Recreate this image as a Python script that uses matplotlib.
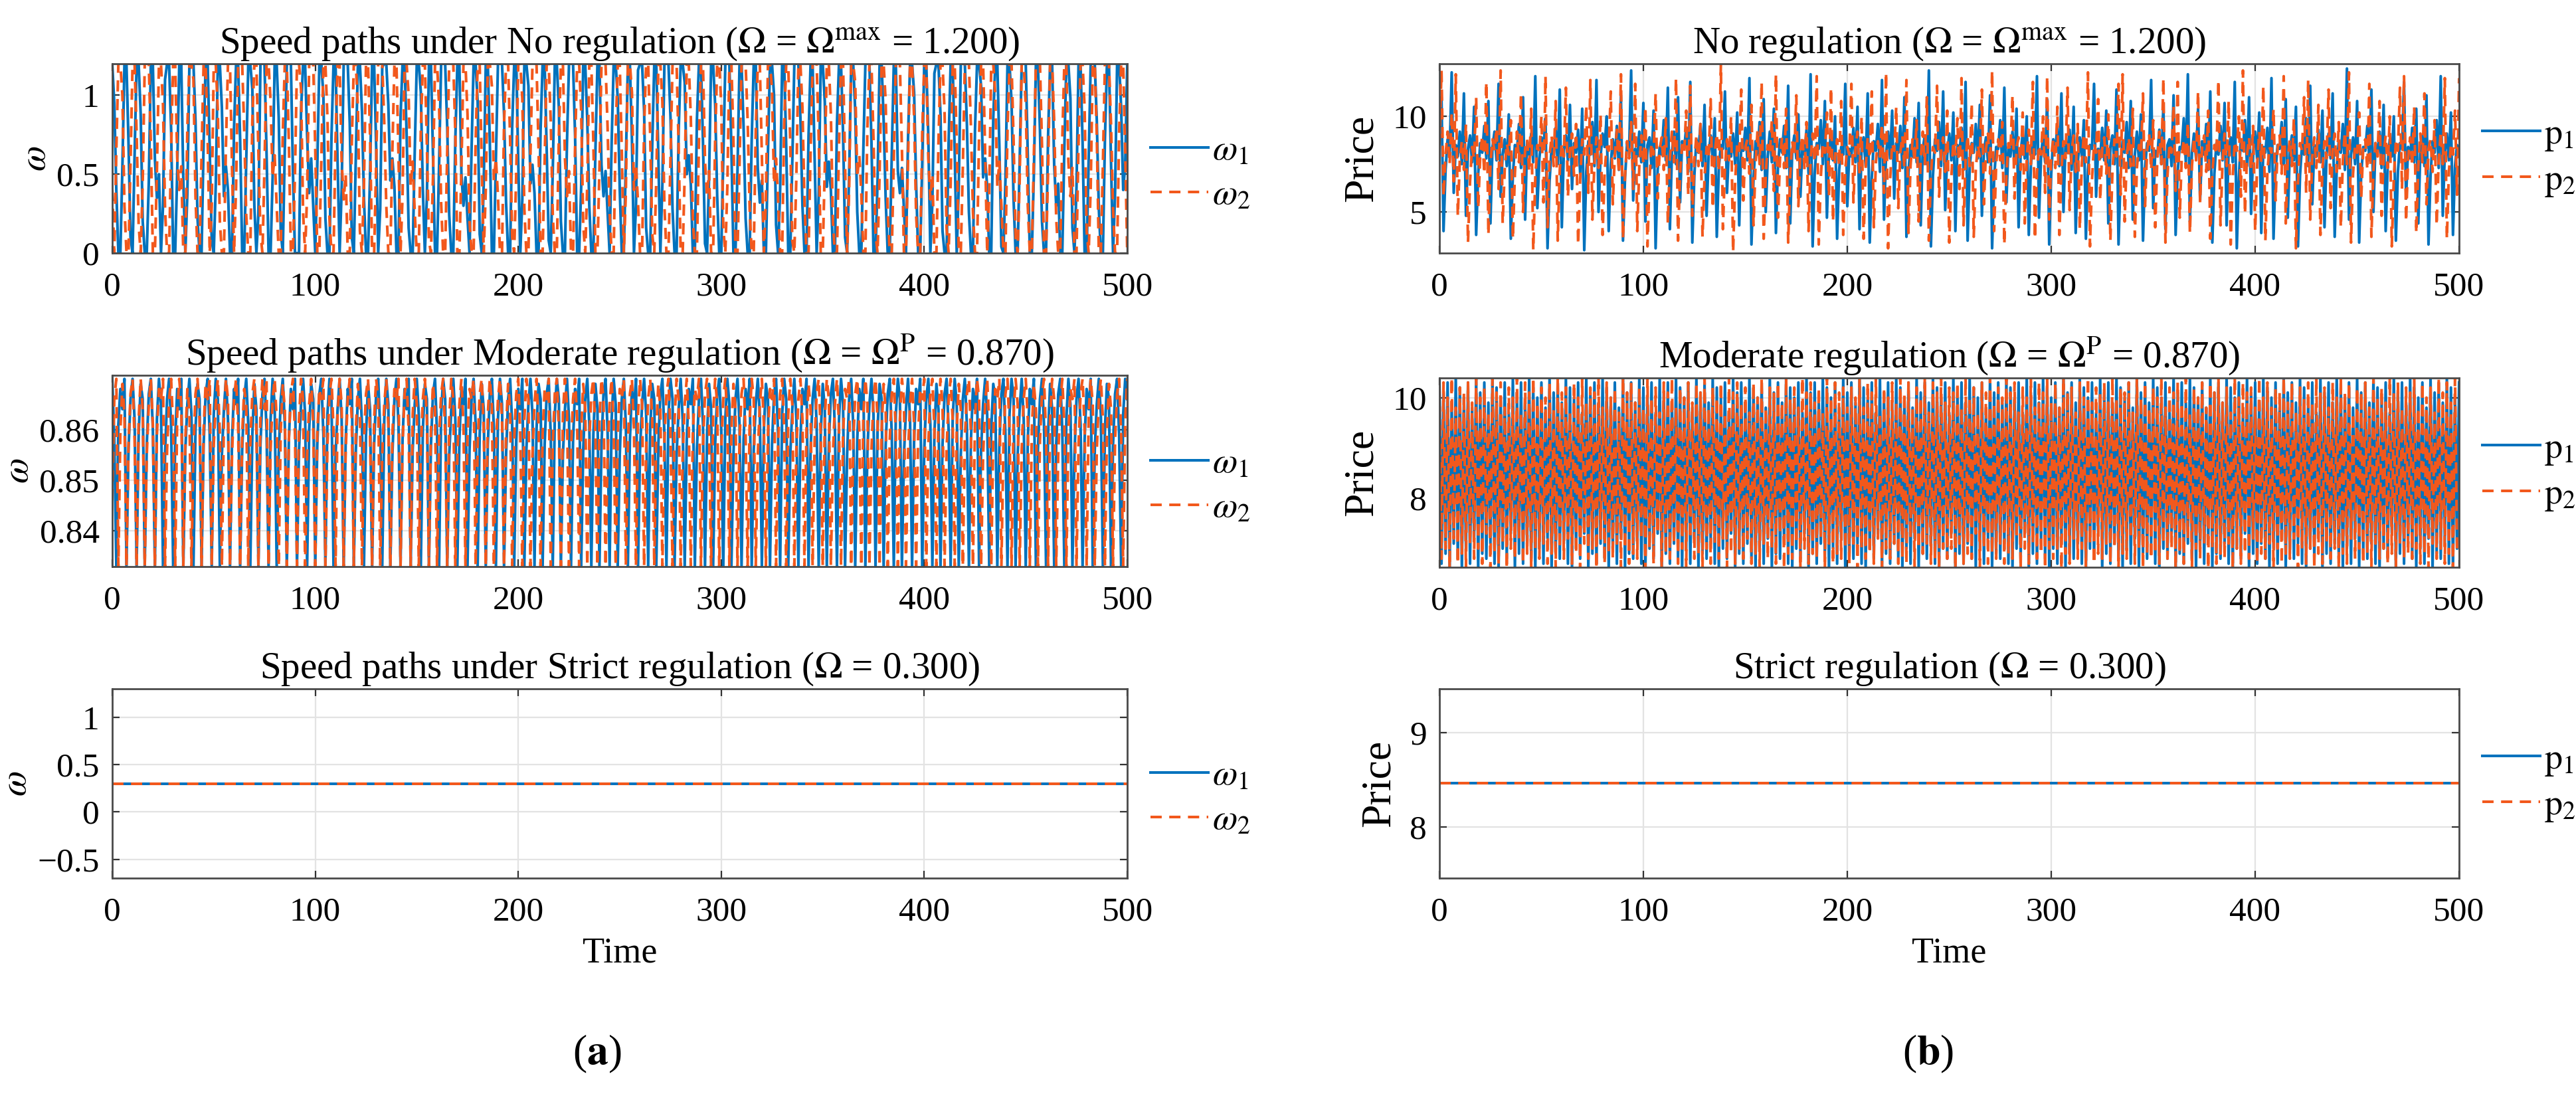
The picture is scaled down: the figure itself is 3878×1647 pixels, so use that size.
import numpy as np
import matplotlib
matplotlib.use("Agg")
import matplotlib.pyplot as plt
from matplotlib.ticker import FuncFormatter

# ---------------- data ----------------
# Speed, no regulation (hundredths)
w1_no_pct = [
120,95,40,0,0,55,120,120,70,10,0,62,120,120,88,20,0,0,45,120,120,60,35,50,0,
30,110,120,120,78,0,0,52,120,120,46,0,38,120,120,120,84,22,0,0,70,120,120,66,8,
0,44,120,120,92,36,55,40,0,0,80,120,120,72,0,0,58,120,120,104,30,0,25,120,120,
120,64,0,0,48,120,120,86,14,0,66,120,120,120,52,0,0,0,90,120,120,74,38,60,30,
0,54,120,120,100,22,0,0,74,120,120,58,0,40,120,120,120,82,10,0,62,120,120,90,34,
0,0,50,120,120,68,0,28,118,120,120,94,46,60,42,0,0,86,120,120,76,16,0,0,64,
120,120,102,40,0,36,120,120,62,0,0,56,120,120,120,80,24,0,0,72,120,120,50,30,48,
22,0,66,120,120,96,12,0,44,120,120,70,0,0,60,120,120,120,88,32,0,0,80,120,120,
58,0,34,120,120,106,44,56,38,0,0,78,120,120,66,8,0,52,120,120,92,20,0,0,70,
120,120,120,74,0,0,42,120,120,84,30,0,0,64,120,120,56,36,52,26,0,70,120,120,98,
40,0,0,58,120,120,72,0,30,116,120,120,90,16,0,0,68,120,120,62,0,44,120,120,120,
86,28,0,0,76,120,120,108,50,62,44,0,0,84,120,120,70,6,0,48,120,120,94,36,0,
0,60,120,120,120,66,0,0,52,120,120,80,22,0,0,72,120,120,54,32,46,0,0,64,120,
120,100,18,0,40,120,120,68,0,0,58,120,120,120,86,30,0,0,74,120,120,60,0,36,120,
120,96,42,58,40,0,0,82,120,120,76,10,0,50,120,120,90,26,0,0,66,120,120,120,70,
0,0,46,120,120,84,34,0,0,62,120,120,52,38,54,28,0,72,120,120,102,44,0,0,56,
120,120,74,0,32,114,120,120,88,14,0,0,70,120,120,64,0,42,120,120,120,82,26,0,0,
78,120,120,106,48,60,42,0,0,86,120,120,68,4,0,46,120,120,96,34,0,0,58,120,120,
120,62,0,0,50,120,120,78,20,0,0,74,120,120,56,30,44,0,0,66,120,120,98,16,0,
42,120,120,70,0,0,60,120,120,120,84,28,0,0,72,120,120,58,0,38,120,120,92,40,56,
120]
w2_no_pct = [
40,0,65,120,120,100,30,0,0,58,120,120,76,18,0,45,120,120,120,70,0,0,52,120,120,
94,28,0,0,66,120,120,60,40,55,0,0,80,120,120,110,36,0,0,62,120,120,72,0,30,
120,120,90,20,0,0,68,120,120,54,0,42,120,120,120,78,24,0,0,84,120,120,64,12,0,
56,120,120,96,48,62,30,0,0,76,120,120,70,0,0,50,120,120,104,26,0,38,120,120,120,
66,0,0,60,120,120,86,22,0,0,72,120,120,58,34,50,0,0,70,120,120,92,14,0,44,
120,120,74,0,0,56,120,120,120,82,30,0,0,66,120,120,62,0,36,120,120,100,42,58,26,
0,0,78,120,120,68,8,0,48,120,120,94,32,0,0,64,120,120,120,76,0,0,54,120,120,
88,20,0,0,70,120,120,56,0,40,120,120,106,46,60,36,0,0,82,120,120,72,10,0,50,
120,120,98,28,0,0,62,120,120,120,66,0,0,58,120,120,84,24,0,0,74,120,120,60,36,
52,0,0,68,120,120,90,18,0,44,120,120,70,0,0,54,120,120,120,80,26,0,0,76,120,
120,64,0,38,120,120,102,40,56,32,0,0,80,120,120,74,12,0,46,120,120,96,30,0,0,
60,120,120,120,68,0,0,50,120,120,86,22,0,0,70,120,120,58,36,52,0,0,72,120,120,
94,16,0,42,120,120,72,0,0,56,120,120,120,84,28,0,0,78,120,120,62,0,34,120,120,
104,44,60,34,0,0,82,120,120,70,8,0,48,120,120,92,32,0,0,64,120,120,120,74,0,
0,54,120,120,88,20,0,0,68,120,120,56,0,40,120,120,108,48,62,38,0,0,80,120,120,
72,12,0,50,120,120,96,26,0,0,60,120,120,120,66,0,0,58,120,120,86,24,0,0,76,
120,120,60,34,50,0,0,70,120,120,90,16,0,44,120,120,70,0,0,54,120,120,120,80,26,
0,0,74,120,120,64,0,38,120,120,100,42,58,30,0,0,78,120,120,72,10,0,46,120,120,
94,30,0,0,62,120,120,120,68,0,0,52,120,120,84,22,0,0,72,120,120,58,36,54,0,
0,70,120,120,92,14,0,42,120,120,74,0,0,56,120,120,120,82,28,0,0,76,120,120,64,
0]

# Speed, moderate regulation (thousandths)
w1_mod_milli = [
870,858,833,861,868,864,870,833,856,866,870,862,833,859,869,866,833,857,867,870,860,833,862,870,865,
833,855,866,870,861,833,858,868,864,870,833,856,865,870,863,833,860,869,866,833,857,867,870,859,833,
863,870,866,833,855,864,870,862,833,858,868,865,870,833,856,866,870,861,833,859,869,864,833,857,867,
870,860,833,862,870,865,833,855,866,870,861,833,858,868,864,870,833,856,865,870,863,833,860,869,866,
833,857,867,870,859,833,863,870,866,833,855,864,870,862,833,858,868,865,870,833,856,866,870,861,833,
859,869,864,833,857,867,870,860,833,862,870,865,833,855,866,870,861,833,858,868,864,870,833,856,865,
870,863,833,860,869,866,833,857,867,870,859,833,863,870,866,833,855,864,870,862,833,858,868,865,870,
833,856,866,870,861,833,859,869,864,833,857,867,870,860,833,862,870,865,833,855,866,870,861,833,858,
868,864,870,833,856,865,870,863,833,860,869,866,833,857,867,870,859,833,863,870,866,833,855,864,870,
862,833,858,868,865,870,833,856,866,870,861,833,859,869,864,833,857,867,870,860,833,862,870,865,833,
855,866,870,861,833,858,868,864,870,833,856,865,870,863,833,860,869,866,833,857,867,870,859,833,863,
870,866,833,855,864,870,862,833,858,868,865,870,833,856,866,870,861,833,859,869,864,833,857,867,870,
860,833,862,870,865,833,855,866,870,861,833,858,868,864,870,833,856,865,870,863,833,860,869,866,833,
857,867,870,859,833,863,870,866,833,855,864,870,862,833,858,868,865,870,833,856,866,870,861,833,859,
869,864,833,857,867,870,860,833,862,870,865,833,855,866,870,861,833,858,868,864,870,833,856,865,870,
863,833,860,869,866,833,857,867,870,859,833,863,870,866,833,855,864,870,862,833,858,868,865,870,833,
856,866,870,861,833,859,869,864,833,857,867,870,860,833,862,870,865,833,855,866,870,861,833,858,868,
864,870,833,856,865,870,863,833,860,869,866,833,857,867,870,859,833,863,870,866,833,855,864,870,862,
833,858,868,865,870,833,856,866,870,861,833,859,869,864,833,857,867,870,860,833,862,870,865,833,855,
866,870,861,833,858,868,864,870,833,856,865,870,863,833,860,869,866,833,857,867,870,859,833,863,870,
866]
w2_mod_milli = [
846,866,870,833,860,869,863,833,857,867,870,858,833,862,870,864,833,855,865,870,861,833,859,868,866,
870,833,856,866,870,860,833,863,870,865,833,858,868,864,833,856,867,870,862,833,860,869,866,870,833,
857,865,870,859,833,862,870,866,833,855,866,870,861,833,859,868,865,833,857,867,870,860,833,863,870,
864,870,833,856,866,870,862,833,860,869,864,833,858,867,870,859,833,862,870,866,833,855,865,870,861,
833,859,868,866,870,833,857,867,870,860,833,863,870,865,833,856,866,870,862,833,860,869,864,833,858,
867,870,859,833,862,870,866,833,855,865,870,861,833,859,868,866,870,833,857,867,870,860,833,863,870,
865,833,856,866,870,862,833,860,869,864,833,858,867,870,859,833,862,870,866,833,855,865,870,861,833,
859,868,866,870,833,857,867,870,860,833,863,870,865,833,856,866,870,862,833,860,869,864,833,858,867,
870,859,833,862,870,866,833,855,865,870,861,833,859,868,866,870,833,857,867,870,860,833,863,870,865,
833,856,866,870,862,833,860,869,864,833,858,867,870,859,833,862,870,866,833,855,865,870,861,833,859,
868,866,870,833,857,867,870,860,833,863,870,865,833,856,866,870,862,833,860,869,864,833,858,867,870,
859,833,862,870,866,833,855,865,870,861,833,859,868,866,870,833,857,867,870,860,833,863,870,865,833,
856,866,870,862,833,860,869,864,833,858,867,870,859,833,862,870,866,833,855,865,870,861,833,859,868,
866,870,833,857,867,870,860,833,863,870,865,833,856,866,870,862,833,860,869,864,833,858,867,870,859,
833,862,870,866,833,855,865,870,861,833,859,868,866,870,833,857,867,870,860,833,863,870,865,833,856,
866,870,862,833,860,869,864,833,858,867,870,859,833,862,870,866,833,855,865,870,861,833,859,868,866,
870,833,857,867,870,860,833,863,870,865,833,856,866,870,862,833,860,869,864,833,858,867,870,859,833,
862,870,866,833,855,865,870,861,833,859,868,866,870,833,857,867,870,860,833,863,870,865,833,856,866,
870,862,833,860,869,864,833,858,867,870,859,833,862,870,866,833,855,865,870,861,833,859,868,866,870,
833,857,867,870,860,833,863,870,865,833,856,866,870,862,833,860,869,864,833,858,867,870,859,833,862,
870]

# Price, no regulation (tenths)
p1_no_tenths = [
95,110,40,72,88,80,123,60,85,79,92,75,112,48,83,90,76,105,38,70,86,81,95,78,108,
44,84,92,77,117,58,80,88,74,101,36,69,85,82,96,73,110,46,87,80,91,76,121,52,78,
89,83,99,31,66,84,79,94,75,114,42,82,90,77,106,62,86,81,93,70,104,30,71,87,80,
97,74,119,50,79,91,84,100,40,75,88,78,95,72,111,35,68,86,82,124,56,83,79,92,76,
107,45,85,89,73,103,31,72,84,80,98,77,115,41,81,92,75,110,55,87,83,94,71,118,34,
69,88,81,96,74,106,48,80,90,78,99,37,73,85,83,113,60,84,79,91,75,102,43,86,82,
94,77,120,33,67,87,80,97,72,109,50,79,92,76,104,39,74,88,81,95,73,116,44,82,90,
78,101,58,85,80,93,70,122,32,70,86,83,98,75,108,47,81,91,77,100,36,72,84,80,117,
53,83,79,94,76,105,41,84,89,74,112,34,68,87,82,96,71,119,46,80,92,78,103,57,86,
81,95,73,110,37,71,85,79,99,76,107,43,83,90,75,124,32,69,88,82,97,74,113,51,80,
91,77,102,40,85,80,94,72,118,35,73,86,81,96,78,106,48,82,89,76,111,31,67,84,83,
98,73,115,55,84,79,92,75,104,42,81,91,78,100,38,74,87,80,121,47,79,90,76,109,33,
70,88,82,95,74,112,50,86,81,93,72,105,39,75,89,79,98,36,72,85,83,117,58,83,78,
94,77,103,44,84,90,75,114,33,69,87,81,97,73,108,46,80,92,77,101,35,73,86,82,119,
52,82,79,93,75,106,41,85,88,74,111,38,71,84,83,99,76,122,45,81,91,78,104,56,87,
80,96,72,113,34,70,86,80,95,77,107,43,83,89,76,118,31,68,88,82,98,74,110,49,81,
92,78,102,39,84,81,94,71,120,36,72,85,83,97,75,109,47,82,90,77,105,32,69,86,80,
99,74,116,54,85,79,93,76,103,42,80,91,78,112,37,73,87,81,96,72,125,46,80,89,75,
108,34,70,84,82,95,77,114,50,86,80,92,73,106,40,75,88,79,100,35,71,86,83,118,57,
84,78,94,76,104,44,82,90,74,111,33,69,87,81,98,73,121,48,81,91,77,102,38,74,85,
82]
p2_no_tenths = [
85,124,58,80,92,75,102,66,122,48,78,87,72,96,34,66,84,78,110,52,80,90,70,118,38,
75,88,82,94,62,124,44,72,86,80,98,36,70,92,76,112,50,83,88,71,104,30,68,85,81,
100,55,121,42,79,90,74,108,35,72,86,79,115,58,82,91,69,96,33,67,88,80,106,60,119,
46,76,89,73,101,38,71,84,82,113,54,80,93,70,122,36,69,87,78,97,62,117,40,74,90,
75,105,32,67,86,80,112,57,83,89,72,99,44,78,92,76,120,35,70,85,81,103,59,116,48,
77,90,74,96,37,68,84,79,109,52,81,91,71,127,41,73,88,77,100,29,66,86,82,114,56,
84,88,70,106,43,75,93,75,118,36,70,85,80,98,61,122,47,78,89,73,104,34,69,87,79,
111,53,82,90,72,97,40,77,91,76,121,33,68,86,81,102,58,115,45,79,88,74,108,38,72,
84,80,117,55,83,92,70,100,36,73,89,78,113,42,76,87,79,96,60,123,31,67,86,82,105,
52,81,90,73,119,39,74,88,76,98,45,78,92,75,110,35,70,84,81,116,58,82,89,71,103,
34,68,87,80,99,62,120,43,77,90,74,107,37,72,85,79,114,54,83,91,70,124,40,75,88,
77,97,33,69,86,82,111,57,84,89,72,102,44,78,93,75,118,36,71,85,80,100,60,121,46,
79,88,73,105,38,72,87,78,115,51,82,90,71,96,41,76,91,76,123,32,67,86,81,109,56,
83,89,70,101,35,71,88,79,117,59,122,45,78,89,74,104,37,73,85,80,112,53,82,91,72,
98,42,77,92,75,120,34,69,86,81,106,61,118,47,79,88,73,97,39,74,89,77,113,55,84,
90,71,103,36,70,85,80,119,43,76,91,74,108,33,68,87,82,100,58,124,49,80,89,72,95,
40,75,92,76,116,35,71,84,81,104,56,83,90,70,121,44,78,88,74,99,31,66,86,82,110,
60,119,46,79,89,73,106,38,73,87,78,114,52,82,91,71,97,42,77,92,75,123,34,70,85,
81,102,57,84,88,72,117,37,72,86,79,108,48,80,90,73,100,32,68,87,82,115,62,121,45,
78,89,74,105,39,74,91,76,112,54,83,88,71,98,43,77,92,75,120,36,71,85,80,103,59,
120]

# Price, moderate regulation (tenths)
p1_mod_tenths = [
104,67,101,69,103,66,99,71,104,68,102,66,100,70,103,67,98,72,104,66,101,69,103,68,99,
71,104,67,102,66,100,70,103,68,97,73,104,66,101,69,103,67,99,71,104,68,102,66,100,70,
103,67,98,72,104,66,101,69,103,68,99,71,104,67,102,66,100,70,103,68,97,73,104,66,101,
69,103,67,99,71,104,68,102,66,100,70,103,67,98,72,104,66,101,69,103,68,99,71,104,67,
102,66,100,70,103,68,97,73,104,66,101,69,103,67,99,71,104,68,102,66,100,70,103,67,98,
72,104,66,101,69,103,68,99,71,104,67,102,66,100,70,103,68,97,73,104,66,101,69,103,67,
99,71,104,68,102,66,100,70,103,67,98,72,104,66,101,69,103,68,99,71,104,67,102,66,100,
70,103,68,97,73,104,66,101,69,103,67,99,71,104,68,102,66,100,70,103,67,98,72,104,66,
101,69,103,68,99,71,104,67,102,66,100,70,103,68,97,73,104,66,101,69,103,67,99,71,104,
68,102,66,100,70,103,67,98,72,104,66,101,69,103,68,99,71,104,67,102,66,100,70,103,68,
97,73,104,66,101,69,103,67,99,71,104,68,102,66,100,70,103,67,98,72,104,66,101,69,103,
68,99,71,104,67,102,66,100,70,103,68,97,73,104,66,101,69,103,67,99,71,104,68,102,66,
100,70,103,67,98,72,104,66,101,69,103,68,99,71,104,67,102,66,100,70,103,68,97,73,104,
66,101,69,103,67,99,71,104,68,102,66,100,70,103,67,98,72,104,66,101,69,103,68,99,71,
104,67,102,66,100,70,103,68,97,73,104,66,101,69,103,67,99,71,104,68,102,66,100,70,103,
67,98,72,104,66,101,69,103,68,99,71,104,67,102,66,100,70,103,68,97,73,104,66,101,69,
103,67,99,71,104,68,102,66,100,70,103,67,98,72,104,66,101,69,103,68,99,71,104,67,102,
66,100,70,103,68,97,73,104,66,101,69,103,67,99,71,104,68,102,66,100,70,103,67,98,72,
104,66,101,69,103,68,99,71,104,67,102,66,100,70,103,68,97,73,104,66,101,69,103,67,99,
71,104,68,102,66,100,70,103,67,98,72,104,66,101,69,103,68,99,71,104,67,102,66,100,70,
103]
p2_mod_tenths = [
102,
68,103,70,100,66,104,72,98,67,102,69,101,66,103,71,99,68,104,70,100,67,102,73,97,66,
104,69,101,67,103,71,98,66,102,70,100,68,104,72,97,67,103,69,101,66,104,70,99,68,102,
71,100,67,103,69,98,66,104,70,101,68,102,72,97,67,103,69,100,66,104,71,99,68,102,70,
101,66,104,72,98,67,103,69,100,68,102,71,97,66,104,70,101,67,103,69,99,68,102,72,98,
66,104,70,100,67,102,73,97,66,103,69,101,68,104,71,98,67,102,70,100,66,103,72,99,68,
103,69,101,66,104,70,98,67,102,71,100,68,103,72,97,66,104,69,101,67,103,70,99,68,102,
72,97,67,103,69,100,66,104,71,98,68,102,70,101,67,103,73,99,66,104,69,100,68,102,71,
98,66,104,70,101,67,103,69,99,68,102,72,97,66,104,71,100,67,103,69,101,68,102,70,98,
67,102,71,100,66,104,70,98,68,103,69,101,67,104,72,97,66,102,70,100,68,103,71,99,67,
104,68,101,67,103,72,98,66,102,70,100,69,104,71,97,67,103,68,101,66,104,70,99,68,102,
70,101,66,103,71,98,67,104,69,100,68,102,73,97,66,103,70,101,67,104,69,99,68,102,71,
100,67,104,69,101,68,103,72,97,66,102,70,100,67,104,71,98,68,103,69,101,66,104,70,99,
68,103,70,98,66,104,69,101,67,102,72,97,68,103,70,100,66,104,71,99,67,102,69,101,68,
103,71,99,67,104,70,100,66,102,69,101,68,103,72,97,67,104,70,100,66,103,69,98,68,102,
69,100,67,104,71,98,68,102,70,101,66,103,69,99,67,104,72,97,66,102,70,100,68,103,71,
98,66,103,70,101,67,104,69,99,68,102,71,97,66,104,70,100,67,103,69,101,68,102,72,98,
67,104,69,100,68,103,71,98,66,102,70,101,67,104,69,99,68,103,72,97,66,102,70,100,67,
103,70,99,66,104,69,101,67,102,71,98,68,103,70,100,66,104,69,101,67,103,72,97,68,102,
70,101,67,103,69,98,66,104,71,100,68,102,70,99,67,104,69,101,66,103,71,98,68,102,69,
101,68,104,70,98,67,103,69,100,66,102,71,97,68,104,70,101,67,103,69,99,66,104,70]

# Strict regulation: constant steady states
w_strict = [0.300, 0.300]      # omega_1, omega_2
p_strict = [8.46, 8.46]        # p_1, p_2
t_strict = [0, 500]

# Titles / labels
titles_left = [
    r"Speed paths under No regulation ($\Omega$ = $\Omega^{\mathrm{max}}$ = 1.200)",
    r"Speed paths under Moderate regulation ($\Omega$ = $\Omega^{\mathrm{P}}$ = 0.870)",
    r"Speed paths under Strict regulation ($\Omega$ = 0.300)",
]
titles_right = [
    r"No regulation ($\Omega$ = $\Omega^{\mathrm{max}}$ = 1.200)",
    r"Moderate regulation ($\Omega$ = $\Omega^{\mathrm{P}}$ = 0.870)",
    r"Strict regulation ($\Omega$ = 0.300)",
]
x_ticks = [0, 100, 200, 300, 400, 500]
yticks_left = [[0, 0.5, 1], [0.84, 0.85, 0.86], [-0.5, 0, 0.5, 1]]
ylims_left = [(0, 1.2), (0.8329, 0.8707), (-0.7, 1.3)]
yticks_right = [[5, 10], [8, 10], [8, 9]]
ylims_right = [(2.85, 12.75), (6.63, 10.39), (7.46, 9.46)]

# ---------------- styling ----------------
plt.rcParams["font.family"] = ["Liberation Serif", "DejaVu Serif"]
plt.rcParams["mathtext.fontset"] = "stix"
plt.rcParams["axes.unicode_minus"] = True

BLUE = "#0072BD"
ORANGE = "#F2581C"
W, H = 3878, 1647
fig = plt.figure(figsize=(W / 100, H / 100), dpi=100)

def rect(x0, x1, y0, y1):
    return [x0 / W, 1 - y1 / H, (x1 - x0) / W, (y1 - y0) / H]

left_rects = [rect(169, 1697, 96, 381), rect(169, 1697, 565, 853), rect(169, 1697, 1037, 1322)]
right_rects = [rect(2167, 3702, 96, 381), rect(2167, 3702, 569, 854), rect(2167, 3702, 1037, 1322)]

TICK_FS = 37
TITLE_FS = 41

fmt = FuncFormatter(lambda v, pos: ("{:g}".format(round(v, 6))).replace("-", "\u2212"))


def style_axes(ax, yticks, ylim):
    ax.set_xlim(0, 500)
    ax.set_ylim(*ylim)
    ax.set_xticks(x_ticks)
    ax.set_yticks(yticks)
    ax.xaxis.set_major_formatter(fmt)
    ax.yaxis.set_major_formatter(fmt)
    ax.grid(True, color="#e3e3e3", linewidth=1.6)
    ax.set_axisbelow(True)
    ax.tick_params(direction="in", length=8, width=1.6, top=True, right=True,
                   labelsize=TICK_FS, color="#333333")
    ax.tick_params(axis="x", pad=20)
    ax.tick_params(axis="y", pad=14)
    for sp in ax.spines.values():
        sp.set_color("#4a4a4a")
        sp.set_linewidth(2.0)


def legend(ax, labels, yc):
    ax.legend(labels, loc="center left", bbox_to_anchor=(1.0, yc), frameon=False,
              fontsize=TICK_FS + 2, handlelength=1.6, handletextpad=0.12,
              borderaxespad=0.25, labelspacing=0.3)


LW = 2.9
DASH = (4.2, 2.8)

series_left = [
    (np.array(w1_no_pct) / 100.0, np.array(w2_no_pct) / 100.0),
    (np.array(w1_mod_milli) / 1000.0, np.array(w2_mod_milli) / 1000.0),
]
series_right = [
    (np.array(p1_no_tenths) / 10.0, np.array(p2_no_tenths) / 10.0),
    (np.array(p1_mod_tenths) / 10.0, np.array(p2_mod_tenths) / 10.0),
]

# ---- left column: speeds ----
for i in range(3):
    ax = fig.add_axes(left_rects[i])
    if i < 2:
        s1, s2 = series_left[i]
        ax.plot(np.arange(len(s1)), s1, color=BLUE, lw=LW)
        ax.plot(np.arange(len(s2)), s2, color=ORANGE, lw=LW, ls="--", dashes=DASH)
    else:
        ax.plot(t_strict, [w_strict[0]] * 2, color=BLUE, lw=LW)
        ax.plot(t_strict, [w_strict[1]] * 2, color=ORANGE, lw=LW, ls="--", dashes=DASH)
    style_axes(ax, yticks_left[i], ylims_left[i])
    ax.set_title(titles_left[i], fontsize=TITLE_FS, pad=12)
    ax.set_ylabel(r"$\omega$", fontsize=40, labelpad=4)
    legend(ax, [r"$\omega_1$", r"$\omega_2$"], 0.42)

# ---- right column: prices ----
for i in range(3):
    ax = fig.add_axes(right_rects[i])
    if i < 2:
        s1, s2 = series_right[i]
        ax.plot(np.arange(len(s1)), s1, color=BLUE, lw=LW)
        ax.plot(np.arange(len(s2)), s2, color=ORANGE, lw=LW, ls="--", dashes=DASH)
    else:
        ax.plot(t_strict, [p_strict[0]] * 2, color=BLUE, lw=LW)
        ax.plot(t_strict, [p_strict[1]] * 2, color=ORANGE, lw=LW, ls="--", dashes=DASH)
    style_axes(ax, yticks_right[i], ylims_right[i])
    ax.set_title(titles_right[i], fontsize=TITLE_FS, pad=12)
    ax.set_ylabel("Price", fontsize=46, labelpad=12)
    legend(ax, [r"$\mathrm{p}_1$", r"$\mathrm{p}_2$"], 0.5)

# x labels and panel labels
fig.text(933 / W, 1 - 1435 / H, "Time", fontsize=39, ha="center", va="center")
fig.text(2934 / W, 1 - 1435 / H, "Time", fontsize=39, ha="center", va="center")
fig.text(899 / W, 1 - 1587 / H, r"($\mathbf{a}$)", fontsize=46, ha="center", va="center")
fig.text(2903 / W, 1 - 1587 / H, r"($\mathbf{b}$)", fontsize=46, ha="center", va="center")

fig.savefig("out.png", dpi=100, facecolor="white")
